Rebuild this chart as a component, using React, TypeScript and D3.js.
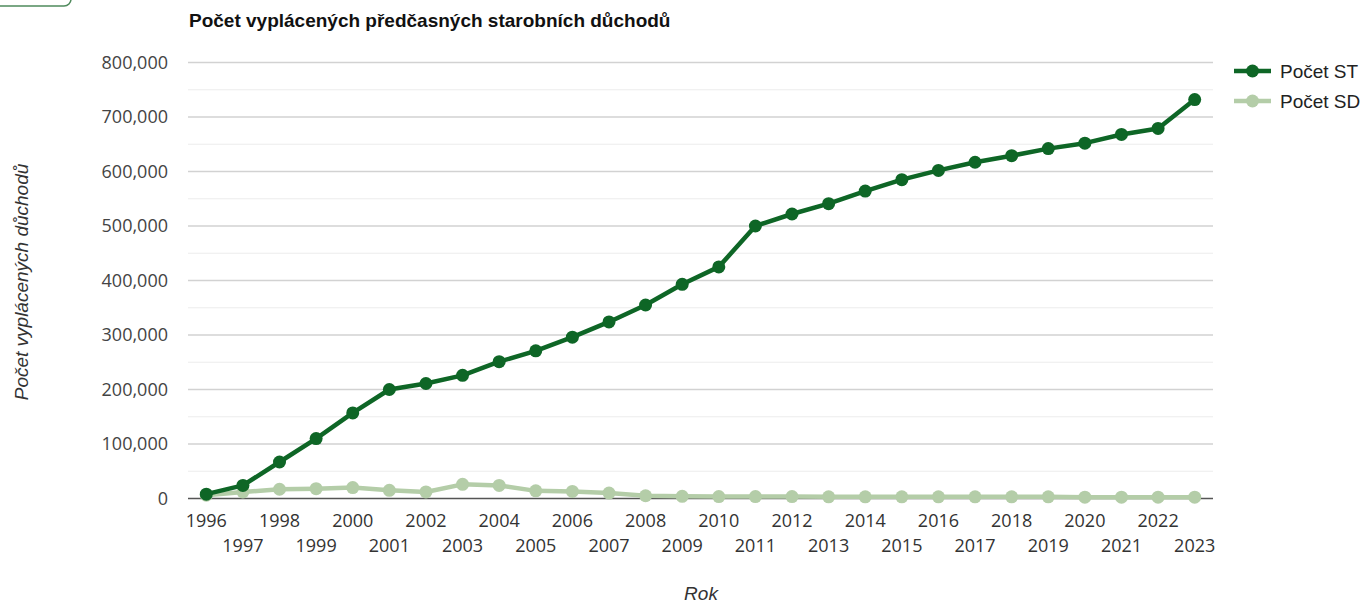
import React from "react";
import * as d3 from "d3";

const years = [
  1996, 1997, 1998, 1999, 2000, 2001, 2002, 2003, 2004, 2005, 2006, 2007, 2008, 2009,
  2010, 2011, 2012, 2013, 2014, 2015, 2016, 2017, 2018, 2019, 2020, 2021, 2022, 2023,
];

const pocetST = [
  8000, 24000, 67000, 110000, 157000, 200000, 211000, 226000, 251000, 271000, 296000,
  324000, 355000, 393000, 425000, 500000, 522000, 541000, 564000, 585000, 602000, 617000,
  629000, 642000, 652000, 668000, 679000, 732000,
];

const pocetSD = [
  6000, 12000, 17000, 18000, 20000, 15000, 12000, 26000, 24000, 14000, 13000, 10000, 5000,
  4000, 3500, 3500, 3500, 3000, 3000, 3000, 3000, 3000, 3000, 3000, 2500, 2500, 2500, 2500,
];

const yTicks = [0, 100000, 200000, 300000, 400000, 500000, 600000, 700000, 800000];
const yMinorTicks = [50000, 150000, 250000, 350000, 450000, 550000, 650000, 750000];

const title = "Počet vyplácených předčasných starobních důchodů";
const yTitle = "Počet vyplácených důchodů";
const xTitle = "Rok";
const seriesNames = ["Počet ST", "Počet SD"];

const W = 1363;
const H = 603;
const left = 188;
const right = 1213;
const top = 62.5;
const bottom = 498.5;

const colorST = "#0e6626";
const colorSD = "#b4cda8";

const tickFont = "'Open Sans', sans-serif";
const labelFont = "'Liberation Sans', Arial, sans-serif";

export default function App() {
  const x = d3.scalePoint<number>().domain(years).range([left, right]).padding(0.5);
  const y = d3.scaleLinear().domain([0, 800000]).range([bottom, top]);
  const fmt = d3.format(",");

  const line = d3
    .line<number>()
    .x((_, i) => x(years[i]) as number)
    .y((d) => y(d));

  const series = [
    { name: seriesNames[1], values: pocetSD, color: colorSD },
    { name: seriesNames[0], values: pocetST, color: colorST },
  ];

  return (
    <svg
      width={W}
      height={H}
      style={{ position: "absolute", left: 0, top: 0, background: "#fff" }}
    >
      {/* partial button outline in the corner */}
      <rect x={-12} y={-30} width={83} height={36} rx={7} fill="none" stroke="#4f8a5c" strokeWidth={1.5} />

      <text x={189} y={27} fontFamily={labelFont} fontWeight="bold" fontSize={19} fill="#111">
        {title}
      </text>

      {/* gridlines */}
      {yMinorTicks.map((t) => (
        <line key={"m" + t} x1={left} x2={right} y1={y(t)} y2={y(t)} stroke="#ececec" strokeWidth={1.2} />
      ))}
      {yTicks.slice(1).map((t) => (
        <line key={"g" + t} x1={left} x2={right} y1={y(t)} y2={y(t)} stroke="#d2d2d2" strokeWidth={1.3} />
      ))}
      <line x1={left} x2={right} y1={y(0)} y2={y(0)} stroke="#555" strokeWidth={1.3} />

      {/* y tick labels */}
      {yTicks.map((t) => (
        <text
          key={"yl" + t}
          x={168}
          y={y(t)}
          dy="0.35em"
          textAnchor="end"
          fontFamily={tickFont}
          fontSize={18}
          fill="#444"
        >
          {fmt(t)}
        </text>
      ))}

      {/* x tick labels, staggered on two rows */}
      {years.map((yr, i) => (
        <text
          key={"xl" + yr}
          x={x(yr) as number}
          y={i % 2 === 0 ? 527 : 552}
          textAnchor="middle"
          fontFamily={tickFont}
          fontSize={18}
          fill="#333"
        >
          {yr}
        </text>
      ))}

      {/* axis titles */}
      <text
        transform={`translate(28,${282}) rotate(-90)`}
        textAnchor="middle"
        fontFamily={labelFont}
        fontStyle="italic"
        fontSize={19}
        fill="#333"
      >
        {yTitle}
      </text>
      <text x={701} y={600} textAnchor="middle" fontFamily={labelFont} fontStyle="italic" fontSize={19} fill="#333">
        {xTitle}
      </text>

      {/* series */}
      {series.map((s) => (
        <g key={s.name}>
          <path d={line(s.values) || ""} fill="none" stroke={s.color} strokeWidth={4.5} strokeLinejoin="round" />
          {s.values.map((v, i) => (
            <circle key={i} cx={x(years[i]) as number} cy={y(v)} r={6.5} fill={s.color} />
          ))}
        </g>
      ))}

      {/* legend */}
      {[
        { name: seriesNames[0], color: colorST },
        { name: seriesNames[1], color: colorSD },
      ].map((s, i) => (
        <g key={"lg" + s.name} transform={`translate(0,${71 + i * 30})`}>
          <line x1={1234} x2={1271} y1={0} y2={0} stroke={s.color} strokeWidth={4.5} />
          <circle cx={1252.5} cy={0} r={6.5} fill={s.color} />
          <text x={1280} y={0} dy="0.35em" fontFamily={labelFont} fontSize={19} fill="#222">
            {s.name}
          </text>
        </g>
      ))}
    </svg>
  );
}
